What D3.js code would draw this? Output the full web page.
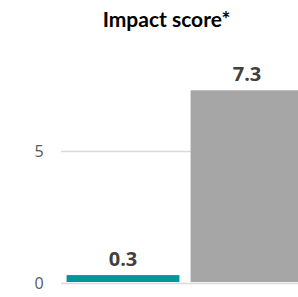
<!DOCTYPE html>
<html><head><meta charset="utf-8">
<script src="https://cdn.jsdelivr.net/npm/d3@7"></script>
<style>html,body{margin:0;padding:0;background:#fff;overflow:hidden}</style>
</head><body>
<svg id="c" width="298" height="297"></svg>
<script>
const categories = ["A", "B"];
const values = [0.3, 7.3];
const barColors = ["#00979c", "#a6a6a6"];
const tickValues = [0, 5];
const title = "Impact score*";

const svg = d3.select("#c");
const x = d3.scaleBand().domain(categories).range([61, 309]).paddingInner(0.09).paddingOuter(0.045);
const y = d3.scaleLinear().domain([0, 10]).range([283, 19]);

const yAxis = d3.axisLeft(y).tickValues(tickValues).tickSize(-(309 - 61)).tickPadding(18).tickFormat(d3.format("d"));
const ga = svg.append("g").attr("transform", "translate(61,0)").call(yAxis);
ga.attr("font-size", null).attr("font-family", null);
ga.select(".domain").remove();
ga.selectAll(".tick line").attr("stroke", "#d9d9d9").attr("stroke-width", 1.6);
ga.selectAll(".tick text").attr("fill", "#595959").style("font-family", "Open Sans").style("font-size", "16px")
  .attr("x", -22).attr("text-anchor", "middle").attr("dy", "0.36em");

svg.append("g").selectAll("rect").data(values).join("rect")
  .attr("x", (d, i) => x(categories[i]))
  .attr("width", x.bandwidth())
  .attr("y", d => y(d))
  .attr("height", d => y(0) - 1 - y(d))
  .attr("fill", (d, i) => barColors[i]);

svg.append("g").selectAll("text").data(values).join("text")
  .attr("x", (d, i) => x(categories[i]) + x.bandwidth() / 2)
  .attr("y", d => y(d) - 9)
  .attr("text-anchor", "middle")
  .style("font-family", "Open Sans").style("font-weight", "bold").style("font-size", "20px")
  .attr("fill", "#404040")
  .text(d => d3.format(".1f")(d));

svg.append("text").attr("x", 166.5).attr("y", 27).attr("text-anchor", "middle")
  .style("font-family", "Lato").style("font-weight", "bold").style("font-size", "21px")
  .attr("fill", "#000").text(title);
</script>
</body></html>
